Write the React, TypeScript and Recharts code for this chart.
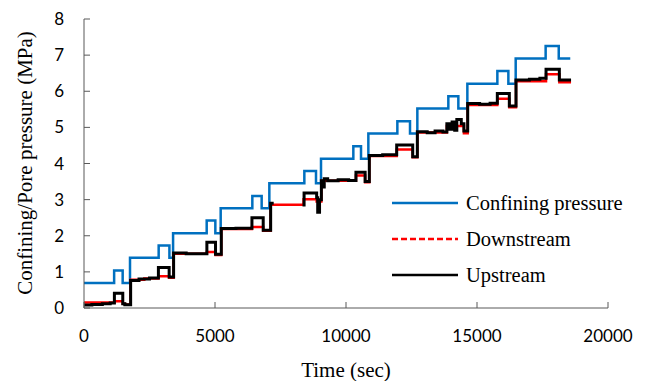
import React from "react";
import { LineChart, Line, XAxis, YAxis, Legend, Label } from "recharts";

// time (sec), pressure (MPa) — change points of each step trace
const confining: [number, number][] = [
  [0, 0.69], [1150, 1.04], [1476, 0.69], [1756, 1.39], [2850, 1.73], [3260, 1.39],
  [3400, 2.07], [4683, 2.42], [5013, 2.07], [5217, 2.76], [6425, 3.1], [6781, 2.76],
  [7074, 3.45], [8410, 3.79], [8855, 3.45], [9046, 4.13], [10280, 4.48], [10573, 4.13],
  [10853, 4.83], [11960, 5.17], [12443, 4.83], [12723, 5.52], [13906, 5.86], [14288, 5.52],
  [14632, 6.21], [15777, 6.56], [16197, 6.21], [16477, 6.91], [17620, 7.25], [18120, 6.91],
  [18560, 6.91],
];

const downstream: [number, number | null][] = [
  [0, 0.15], [1160, 0.19], [1480, 0.12], [1560, 0.1], [1780, 0.78], [2300, 0.82],
  [2840, 0.88], [3250, 0.84], [3420, 1.5], [4690, 1.55], [5020, 1.47], [5240, 2.19],
  [6410, 2.24], [6840, 2.14], [7124, 2.86], [8380, 3.01], [8880, 2.95], [9060, 3.52],
  [10380, 3.67], [10730, 3.48], [10890, 4.21], [11935, 4.39], [12546, 4.17], [12723, 4.86],
  [13850, 5.04], [14500, 4.84], [14645, 5.62], [15776, 5.79], [16234, 5.56], [16489, 6.28],
  [17635, 6.47], [18143, 6.25], [18590, 6.25],
];

const upstream: [number, number | null][] = [
  [0, 0.08], [300, 0.1], [700, 0.12], [1000, 0.14], [1160, 0.41], [1480, 0.12],
  [1560, 0.09], [1780, 0.76], [2100, 0.8], [2500, 0.83], [2840, 1.12], [3250, 0.86],
  [3420, 1.52], [3900, 1.5], [4690, 1.82], [5020, 1.49], [5240, 2.2], [5800, 2.21],
  [6410, 2.5], [6840, 2.15], [7124, 2.9], [7240, 2.9], [7250, null], [8340, 2.85],
  [8400, 3.18], [8880, 3.05], [8920, 2.65], [8990, 3.0], [9060, 3.52], [9120, 3.35],
  [9170, 3.58], [9300, 3.52], [9700, 3.55], [10100, 3.53], [10380, 3.76], [10730, 3.5],
  [10890, 4.22], [11400, 4.24], [11935, 4.51], [12546, 4.19], [12723, 4.88], [13100, 4.85],
  [13400, 4.9], [13700, 4.87], [13850, 5.1], [13950, 4.95], [14050, 5.15], [14150, 4.92],
  [14230, 5.22], [14400, 5.1], [14500, 4.9], [14645, 5.66], [15100, 5.64], [15500, 5.67],
  [15776, 5.94], [16234, 5.59], [16489, 6.31], [17000, 6.33], [17400, 6.36], [17635, 6.61],
  [18143, 6.31], [18590, 6.31],
];

const xTicks = [0, 5000, 10000, 15000, 20000];
const yTicks = [0, 1, 2, 3, 4, 5, 6, 7, 8];

const SERIF = '"Liberation Serif", "Times New Roman", serif';
const SANS = 'Lato, "Open Sans", sans-serif';
const AXIS = "#595959";

const toRows = (pts: [number, number | null][]) => pts.map(([t, p]) => ({ t, p }));

const legendDash: Record<string, string | undefined> = { Downstream: "6 3" };

const LegendBox = ({ payload }: any) => (
  <svg width={250} height={100}>
    {(payload || []).map((entry: any, i: number) => {
      const y = 12 + i * 36;
      return (
        <g key={entry.value}>
          <line x1={0} x2={66} y1={y} y2={y} stroke={entry.color} strokeWidth={2.5}
            strokeDasharray={legendDash[entry.value]} />
          <text x={74} y={y + 6.5} fontFamily={SERIF} fontSize={20.5} fill="#000">
            {entry.value}
          </text>
        </g>
      );
    })}
  </svg>
);

export default function App() {
  return (
    <div style={{ position: "absolute", left: 0, top: 0, background: "#fff" }}>
      <LineChart width={646} height={381} margin={{ top: 19, right: 38, bottom: 0, left: 0 }}>
        <XAxis
          dataKey="t"
          type="number"
          domain={[0, 20000]}
          ticks={xTicks}
          height={73}
          stroke={AXIS}
          tickSize={-6}
          tickMargin={28}
          tick={{ fontFamily: SANS, fontSize: 17, fill: "#000" }}
        >
          <Label
            content={() => (
              <text x={346} y={377} textAnchor="middle" fontFamily={SERIF} fontSize={21} fill="#000">
                Time (sec)
              </text>
            )}
          />
        </XAxis>
        <YAxis
          type="number"
          domain={[0, 8]}
          ticks={yTicks}
          width={84}
          stroke={AXIS}
          tickSize={-6}
          tickMargin={26}
          tick={{ fontFamily: SANS, fontSize: 17, fill: "#000" }}
        >
          <Label
            content={() => (
              <text transform="translate(31.5,163) rotate(-90)" textAnchor="middle"
                fontFamily={SERIF} fontSize={21} fill="#000">
                Confining/Pore pressure (MPa)
              </text>
            )}
          />
        </YAxis>
        <Legend
          layout="vertical"
          align="center"
          verticalAlign="middle"
          content={<LegendBox />}
          wrapperStyle={{ left: 392, top: 191, width: 250, height: 100 }}
        />
        <Line data={toRows(confining)} dataKey="p" name="Confining pressure" type="stepAfter"
          stroke="#0070C0" strokeWidth={2.5} dot={false} isAnimationActive={false} />
        <Line data={toRows(downstream)} dataKey="p" name="Downstream" type="stepAfter"
          stroke="#FF0000" strokeWidth={2.5} dot={false} isAnimationActive={false} />
        <Line data={toRows(upstream)} dataKey="p" name="Upstream" type="stepAfter"
          stroke="#000000" strokeWidth={3} dot={false} isAnimationActive={false} />
      </LineChart>
    </div>
  );
}
